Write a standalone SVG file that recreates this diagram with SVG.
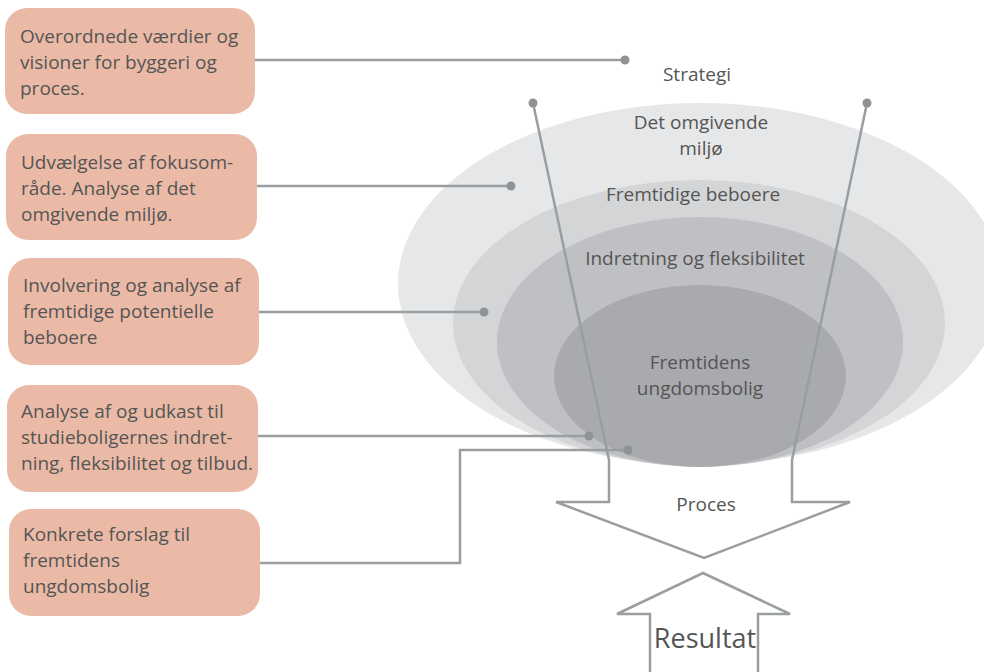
<svg xmlns="http://www.w3.org/2000/svg" width="984" height="672" viewBox="0 0 984 672">
<style>
.box{fill:#ebbaa6}
.bt{font-family:"Open Sans","Liberation Sans",sans-serif;font-size:19px;fill:#555555}
.lt{font-family:"Open Sans","Liberation Sans",sans-serif;font-size:19px;fill:#555555;text-anchor:middle}
.ln{fill:none;stroke:#9a9ea1;stroke-width:2.5}
.ar{fill:none;stroke:#9a9ea1;stroke-width:2.5;stroke-linejoin:miter}
.dot{fill:#8f9396}
</style>
<rect width="984" height="672" fill="#ffffff"/>
<g id="rings">
<ellipse cx="700" cy="284" rx="302" ry="181" fill="#e6e7e8"/>
<ellipse cx="699" cy="323" rx="246" ry="143" fill="#d4d5d7"/>
<ellipse cx="700" cy="342" rx="203" ry="125" fill="#bfc0c3"/>
<ellipse cx="700" cy="376" rx="146" ry="91" fill="#a9aaad"/>
</g>
<g id="connectors">
<path class="ar" d="M533,103 L609,460 L609,502 L556,502 L704,558 L850,502 L792,502 L792,460 L867,103"/>
<path class="ar" d="M650,672 L650,614 L617,614 L703,573 L790,614 L758,614 L758,672"/>
<path class="ln" d="M255,60 H625"/>
<path class="ln" d="M257,186 H511"/>
<path class="ln" d="M259,312 H484"/>
<path class="ln" d="M258,436 H589"/>
<path class="ln" d="M260,563 H460 V450 H628"/>
<circle class="dot" cx="625" cy="60" r="4.5"/>
<circle class="dot" cx="511" cy="186" r="4.5"/>
<circle class="dot" cx="484" cy="312" r="4.5"/>
<circle class="dot" cx="589" cy="436" r="4.5"/>
<circle class="dot" cx="628" cy="450" r="4.5"/>
<circle class="dot" cx="533" cy="103" r="4.5"/>
<circle class="dot" cx="867" cy="103" r="4.5"/>
</g>
<g id="node1"><rect class="box" x="5" y="8" width="250" height="106" rx="22"/>
<text class="bt" x="20" y="43">Overordnede værdier og</text>
<text class="bt" x="20" y="69">visioner for byggeri og</text>
<text class="bt" x="20" y="95">proces.</text></g>
<g id="node2"><rect class="box" x="6" y="134" width="251" height="106" rx="22"/>
<text class="bt" x="21" y="169">Udvælgelse af fokusom-</text>
<text class="bt" x="21" y="195">råde. Analyse af det</text>
<text class="bt" x="21" y="221">omgivende miljø.</text></g>
<g id="node3"><rect class="box" x="8" y="258" width="251" height="107" rx="22"/>
<text class="bt" x="23" y="292">Involvering og analyse af</text>
<text class="bt" x="23" y="318">fremtidige potentielle</text>
<text class="bt" x="23" y="344">beboere</text></g>
<g id="node4"><rect class="box" x="7" y="385" width="251" height="107" rx="22"/>
<text class="bt" x="21" y="418">Analyse af og udkast til</text>
<text class="bt" x="21" y="444">studieboligernes indret-</text>
<text class="bt" x="21" y="470">ning, fleksibilitet og tilbud.</text></g>
<g id="node5"><rect class="box" x="9" y="509" width="251" height="107" rx="22"/>
<text class="bt" x="23" y="541">Konkrete forslag til</text>
<text class="bt" x="23" y="567">fremtidens</text>
<text class="bt" x="23" y="593">ungdomsbolig</text></g>
<g id="labels">
<text class="lt" x="697" y="81">Strategi</text>
<text class="lt" x="701" y="129">Det omgivende</text>
<text class="lt" x="701" y="155">miljø</text>
<text class="lt" x="693" y="201">Fremtidige beboere</text>
<text class="lt" x="695" y="265">Indretning og fleksibilitet</text>
<text class="lt" x="700" y="369">Fremtidens</text>
<text class="lt" x="700" y="395">ungdomsbolig</text>
<text class="lt" x="706" y="511">Proces</text>
<text class="lt" x="705" y="648" style="font-size:27px">Resultat</text>
</g>
</svg>
